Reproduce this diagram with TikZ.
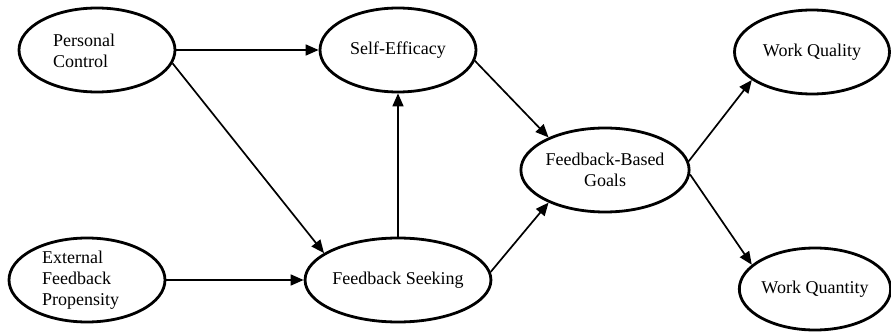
\documentclass[tikz,border=0pt]{standalone}
\usepackage{fontspec}
\setmainfont{Liberation Serif}
\usetikzlibrary{shapes.geometric,arrows.meta}
\begin{document}
\begin{tikzpicture}[x=1pt,y=1pt,
  oval/.style={ellipse,draw,line width=2.8pt,minimum width=156pt,minimum height=84pt,inner sep=0pt,font=\fontsize{18}{21}\selectfont,align=center},
  lbl/.style={font=\fontsize{18}{21}\selectfont,align=left,inner sep=0pt,anchor=west},
  conn/.style={line width=1.7pt,-{Triangle[length=13pt,width=11pt]}}]
\useasboundingbox (0,0) rectangle (891,332);
\node[oval] (pc) at (97,282) {};
\node[lbl] (pctxt) at (53,281) {Personal\\Control};
\node[oval] (se) at (398,282) {Self-Efficacy};
\node[oval,minimum width=155pt] (wq) at (812,280) {Work Quality};
\node[oval] (efp) at (87,52) {};
\node[lbl] (efptxt) at (42,52) {External\\Feedback\\Propensity};
\node[oval] (fs) at (398,52) {Feedback Seeking};
\node[oval,minimum width=150pt,minimum height=82pt] (wqn) at (815,43) {Work Quantity};
\node[oval] (fbg) at (605,162) {Feedback-Based\\Goals};
\draw[conn] (pc.east) -- (se.west);
\draw[conn] (pc.-10) -- (fs.160);
\draw[conn] (se.-8) -- (fbg.150);
\draw[conn] (fs.north) -- (se.south);
\draw[conn] (efp.east) -- (fs.west);
\draw[conn] (fs.5) -- (fbg.210);
\draw[conn] (fbg.6) -- (wq.205);
\draw[conn] (fbg.-3) -- (wqn.159);
\end{tikzpicture}
\end{document}
